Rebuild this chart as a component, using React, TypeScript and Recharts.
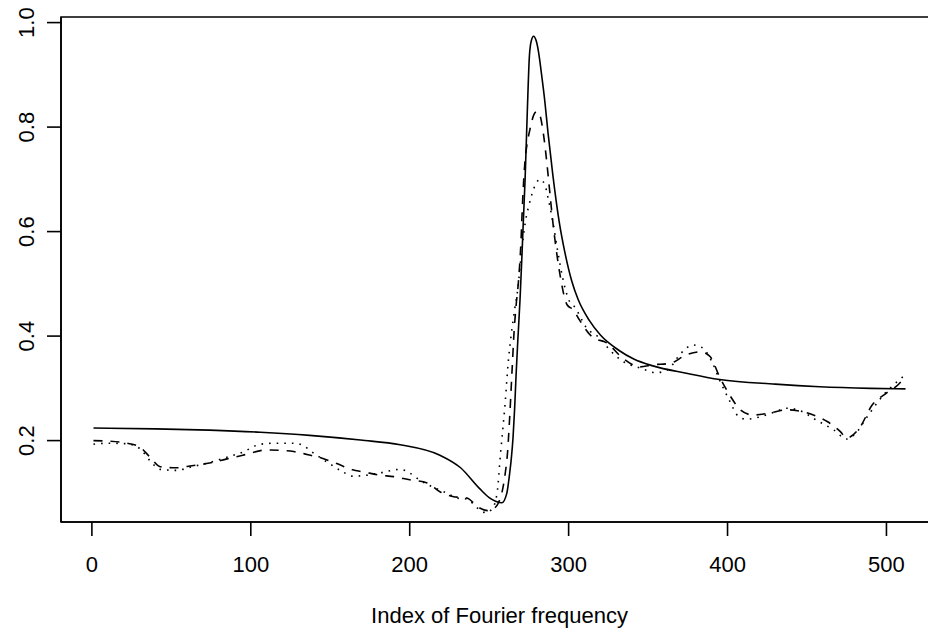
import React from "react";
import { LineChart, Line, XAxis, YAxis, ReferenceArea } from "recharts";

// index of Fourier frequency
const solidIdx = [1, 40, 74, 106, 137, 169, 194, 219, 232, 244, 250, 254, 258, 261, 263, 264, 265, 266, 267, 268, 269.4, 270.5, 271.5, 272.6, 274, 275.3, 276.5, 278, 279.5, 281, 283, 285, 287, 290, 294, 298, 302, 306, 313, 320, 332, 341, 353, 374, 395, 430, 458, 490, 512];
const solidVal = [0.224, 0.2225, 0.22, 0.216, 0.21, 0.201, 0.192, 0.172, 0.148, 0.108, 0.091, 0.084, 0.081, 0.098, 0.14, 0.168, 0.205, 0.26, 0.33, 0.39, 0.469, 0.545, 0.62, 0.7, 0.83, 0.935, 0.965, 0.974, 0.966, 0.945, 0.9, 0.85, 0.79, 0.71, 0.62, 0.555, 0.505, 0.47, 0.43, 0.402, 0.372, 0.356, 0.343, 0.329, 0.317, 0.308, 0.303, 0.3, 0.299];

const dashIdx = [1, 10, 22, 30, 37, 43, 53, 63, 74, 85, 95, 110, 120, 127, 136, 144, 155, 164, 171, 181, 190, 200, 211, 219, 227, 236, 243, 249, 253, 256, 258, 260, 261.5, 263, 264.5, 265.7, 267, 268.5, 270, 271, 272.6, 274, 276, 278, 280, 282, 284, 286, 288, 290, 292, 295, 299, 303, 307, 315, 324, 334, 345, 353, 364, 374, 383, 389, 395, 402, 408, 416, 427, 437, 444, 454, 463, 471, 475, 483, 491, 500, 507, 512];
const dashVal = [0.2, 0.199, 0.195, 0.188, 0.167, 0.15, 0.148, 0.152, 0.157, 0.165, 0.172, 0.182, 0.181, 0.179, 0.173, 0.167, 0.155, 0.144, 0.14, 0.134, 0.131, 0.125, 0.119, 0.102, 0.093, 0.09, 0.073, 0.066, 0.07, 0.082, 0.1, 0.135, 0.175, 0.25, 0.34, 0.41, 0.46, 0.507, 0.58, 0.655, 0.737, 0.77, 0.8, 0.823, 0.83, 0.822, 0.79, 0.74, 0.68, 0.62, 0.57, 0.51, 0.46, 0.45, 0.43, 0.398, 0.387, 0.358, 0.341, 0.345, 0.348, 0.364, 0.37, 0.361, 0.322, 0.284, 0.259, 0.249, 0.253, 0.259, 0.257, 0.249, 0.236, 0.217, 0.205, 0.224, 0.268, 0.291, 0.306, 0.323];

const dotIdx = [1, 10, 22, 30, 37, 43, 53, 63, 74, 85, 95, 106, 115, 125, 131, 140, 150, 158, 164, 171, 181, 194, 200, 206, 214, 223, 230, 236, 243, 248, 252, 255, 257, 260, 262, 264, 266, 268, 270, 272.8, 275, 279, 282, 285, 287, 290, 293, 296, 300, 304, 311, 320, 326, 334, 345, 355, 362, 371, 378, 384, 390, 395, 401, 407, 412, 420, 430, 437, 445, 456, 467, 475, 480, 488, 498, 505, 512];
const dotVal = [0.193, 0.195, 0.194, 0.185, 0.16, 0.145, 0.143, 0.15, 0.158, 0.168, 0.178, 0.193, 0.195, 0.195, 0.193, 0.175, 0.155, 0.14, 0.132, 0.133, 0.138, 0.145, 0.138, 0.125, 0.112, 0.1, 0.09, 0.088, 0.07, 0.062, 0.07, 0.1, 0.17, 0.27, 0.35, 0.406, 0.45, 0.49, 0.55, 0.619, 0.65, 0.689, 0.7, 0.69, 0.665, 0.62, 0.565, 0.515, 0.47, 0.455, 0.417, 0.395, 0.373, 0.352, 0.339, 0.33, 0.335, 0.368, 0.383, 0.378, 0.352, 0.316, 0.278, 0.246, 0.241, 0.245, 0.255, 0.262, 0.258, 0.239, 0.22, 0.203, 0.212, 0.246, 0.287, 0.308, 0.326];

const xTicks = [0, 100, 200, 300, 400, 500];
const yTicks = [0.2, 0.4, 0.6, 0.8, 1.0];

const X_DOMAIN: [number, number] = [-19.44, 532.44];
const Y_DOMAIN: [number, number] = [0.0442, 1.0107];

const FONT = "'Liberation Sans', Arial, Helvetica, sans-serif";
const FS = 22;

const toPoints = (idx: number[], val: number[]) => idx.map((i, k) => ({ i, v: val[k] }));

const solidData = toPoints(solidIdx, solidVal);
const dashData = toPoints(dashIdx, dashVal);
const dotData = toPoints(dotIdx, dotVal);

function XTick(props: any) {
  const { x, y, payload } = props;
  return (
    <text x={x} y={y + 36} textAnchor="middle" fontFamily={FONT} fontSize={FS} fill="#000">
      {payload.value}
    </text>
  );
}

function YTick(props: any) {
  const { x, y, payload } = props;
  const bx = x - 13;
  return (
    <text
      x={bx}
      y={y}
      textAnchor="middle"
      transform={`rotate(-90, ${bx}, ${y})`}
      fontFamily={FONT}
      fontSize={FS}
      fill="#000"
    >
      {Number(payload.value).toFixed(1)}
    </text>
  );
}

export default function App() {
  return (
    <div
      style={{
        position: "absolute",
        left: 0,
        top: 0,
        width: 928,
        height: 633,
        overflow: "hidden",
        background: "#fff",
      }}
    >
      <LineChart width={950} height={633} margin={{ top: 17, right: 12, bottom: 0, left: 0 }}>
        <XAxis
          type="number"
          dataKey="i"
          domain={X_DOMAIN}
          allowDataOverflow
          ticks={xTicks}
          tickSize={14}
          tickMargin={0}
          height={111}
          stroke="#000"
          strokeWidth={1.6}
          tick={<XTick />}
          label={{
            value: "Index of Fourier frequency",
            position: "insideBottom",
            offset: 10,
            style: { fontFamily: FONT, fontSize: FS, fill: "#000" },
          }}
        />
        <YAxis
          type="number"
          dataKey="v"
          domain={Y_DOMAIN}
          allowDataOverflow
          ticks={yTicks}
          tickSize={14}
          tickMargin={0}
          width={61}
          stroke="#000"
          strokeWidth={1.6}
          tick={<YTick />}
        />
        <ReferenceArea
          x1={X_DOMAIN[0]}
          x2={X_DOMAIN[1]}
          y1={Y_DOMAIN[0]}
          y2={Y_DOMAIN[1]}
          fill="none"
          fillOpacity={0}
          stroke="#000"
          strokeWidth={1.6}
          ifOverflow="visible"
        />
        <Line
          data={solidData}
          dataKey="v"
          type="monotone"
          stroke="#000"
          strokeWidth={1.6}
          dot={false}
          activeDot={false}
          isAnimationActive={false}
        />
        <Line
          data={dashData}
          dataKey="v"
          type="monotone"
          stroke="#000"
          strokeWidth={1.6}
          strokeDasharray="9 8"
          dot={false}
          activeDot={false}
          isAnimationActive={false}
        />
        <Line
          data={dotData}
          dataKey="v"
          type="monotone"
          stroke="#000"
          strokeWidth={1.6}
          strokeDasharray="1.6 6"
          dot={false}
          activeDot={false}
          isAnimationActive={false}
        />
      </LineChart>
    </div>
  );
}
